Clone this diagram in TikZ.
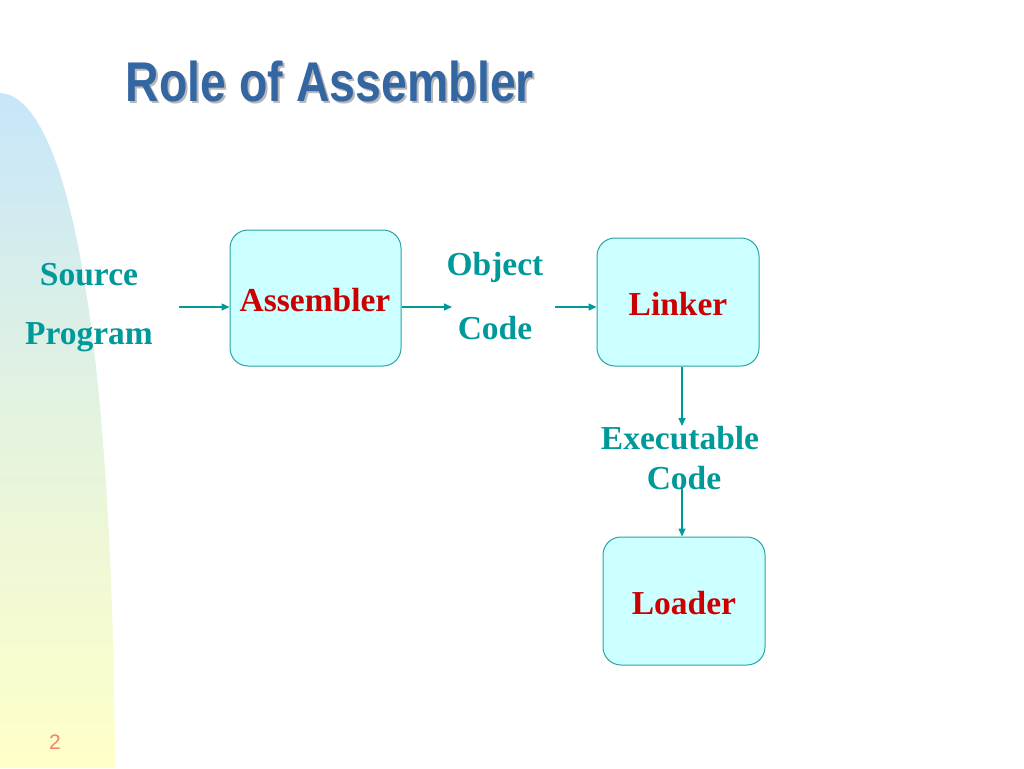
\documentclass[tikz,border=0pt]{standalone}
\usepackage{fontspec}
\setmainfont{Liberation Serif}
\setsansfont{Liberation Sans}
\usetikzlibrary{arrows.meta}
\definecolor{teal1}{HTML}{009999}
\definecolor{boxfill}{HTML}{CCFFFF}
\definecolor{boxline}{HTML}{2AA3A3}
\definecolor{redlab}{HTML}{CC0000}
\definecolor{titleblue}{HTML}{3466A2}
\definecolor{pgnum}{HTML}{F28468}
\definecolor{decotop}{HTML}{C6E6FA}
\definecolor{decobot}{HTML}{FFFFC8}
\tikzset{
  stagebox/.style={draw=boxline, fill=boxfill, line width=1pt, rounded corners=18pt, inner sep=0pt},
  redlabel/.style={text=redlab, font=\fontsize{33.5}{38}\selectfont\bfseries},
  teallabel/.style={text=teal1, font=\fontsize{33.5}{38}\selectfont\bfseries, inner sep=0pt},
  flow/.style={draw=teal1, line width=1.4pt, -{Triangle[length=8pt,width=7pt]}}
}
\begin{document}
\begin{tikzpicture}[x=1pt,y=-1pt]
\useasboundingbox (0,0) rectangle (1024,768);
\fill[white] (0,0) rectangle (1024,768);
% left decoration
\shade[top color=decotop, bottom color=decobot, middle color=decobot!55!decotop] (0,93) .. controls (55,95) and (112,260) .. (115,768) -- (0,768) -- cycle;
% title with shadow
\node[text=black!28, font=\fontsize{56}{60}\sffamily\bfseries, xscale=0.83, transform shape, anchor=base] at (332,103) {Role of Assembler};
\node[text=titleblue, font=\fontsize{56}{60}\sffamily\bfseries, xscale=0.83, transform shape, anchor=base] (title) at (330,101) {Role of Assembler};
% boxes
\node[stagebox, minimum width=171pt, minimum height=136pt] (asm) at (315.5,298) {};
\node[redlabel] at (315,300) {Assembler};
\node[stagebox, minimum width=162pt, minimum height=128pt] (lk) at (678,302) {};
\node[redlabel] at (678,304) {Linker};
\node[stagebox, minimum width=162pt, minimum height=128pt] (ld) at (684,601) {};
\node[redlabel] at (684,603) {Loader};
% labels
\node[teallabel] (src) at (89,275) {Source};
\node[teallabel] (prg) at (89,337) {Program};
\node[teallabel] (obj) at (495,267) {Object};
\node[teallabel] (objc) at (495,328) {Code};
\node[teallabel] (exe) at (680,438) {Executable};
\node[teallabel] (exec) at (684,478) {Code};
% arrow anchors
\coordinate (srcend) at (179,307);
\coordinate (objin) at (452,307);
\coordinate (objout) at (555,307);
\coordinate (exein) at (682,426);
\coordinate (exeout) at (682,488);
% connectors
\draw[flow] (srcend) -- (asm.west |- srcend);
\draw[flow] (asm.east |- objin) -- (objin);
\draw[flow] (objout) -- (lk.west |- objout);
\draw[flow] (lk.south -| exein) -- (exein);
\draw[flow] (exeout) -- (ld.north -| exeout);
% page number
\node[text=pgnum, font=\fontsize{21}{24}\sffamily] (pg) at (55,742) {2};
\end{tikzpicture}
\end{document}
